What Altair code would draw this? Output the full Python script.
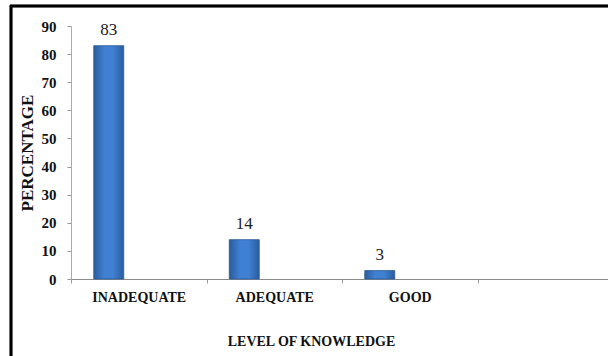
import altair as alt
import pandas as pd

categories = ["INADEQUATE", "ADEQUATE", "GOOD"]
values = [83, 14, 3]
extra_category = [" "]
y_ticks = [0, 10, 20, 30, 40, 50, 60, 70, 80, 90]

df = pd.DataFrame({"level": categories, "pct": values})

FONT = "Liberation Serif, Times New Roman, serif"
W, H = 537, 253

xscale = alt.Scale(domain=categories + extra_category, range=[0, 542],
                   paddingInner=0, paddingOuter=0)
yscale = alt.Scale(domain=[0, 90], nice=False)

grad = alt.Gradient(
    gradient="linear", x1=0, y1=0, x2=1, y2=0,
    stops=[
        alt.GradientStop(offset=0, color="#2A5C9C"),
        alt.GradientStop(offset=0.35, color="#3F80D2"),
        alt.GradientStop(offset=0.65, color="#3F80D2"),
        alt.GradientStop(offset=1, color="#2A5C9C"),
    ],
)

bars = alt.Chart(df).mark_bar(
    size=30, xOffset=-30, color=grad, stroke="#2B5A94", strokeWidth=0.8
).encode(
    x=alt.X("level:N", scale=xscale, sort=None,
            axis=alt.Axis(
                title="LEVEL OF KNOWLEDGE", titleFont=FONT, titleFontSize=14,
                titleFontWeight="bold", titleColor="#111",
                titleX=240, titleY=66, titleBaseline="alphabetic",
                labelFont=FONT, labelFontSize=14, labelFontWeight="bold",
                labelColor="#111", labelAngle=0, labelPadding=7,
                labelOverlap=False,
                tickBand="extent", tickSize=4, tickColor="#999",
                domainColor="#8a8a8a", domainWidth=1.2, grid=False)),
    y=alt.Y("pct:Q", scale=yscale,
            axis=alt.Axis(
                title="PERCENTAGE", titleFont=FONT, titleFontSize=17,
                titleFontWeight="bold", titleColor="#111",
                titleX=-35, titleY=H / 2,
                values=y_ticks, tickCount=10, labelOverlap=False,
                labelFont=FONT, labelFontSize=15,
                labelFontWeight="bold", labelColor="#111", labelPadding=11,
                tickSize=4, tickColor="#999", domainColor="#aaa", grid=False)),
)

labels = alt.Chart(df).mark_text(
    xOffset=-30, dy=-11, baseline="alphabetic", font=FONT, fontSize=17,
    color="#222"
).encode(
    x=alt.X("level:N", scale=xscale, sort=None),
    y=alt.Y("pct:Q", scale=yscale),
    text=alt.Text("pct:Q"),
)

border_top = alt.Chart(df).mark_rule(color="black", strokeWidth=2.5).encode(
    x=alt.value(-61), x2=alt.value(W + 10), y=alt.value(-20)
)
border_left = alt.Chart(df).mark_rule(color="black", strokeWidth=2.5).encode(
    x=alt.value(-60), y=alt.value(-21), y2=alt.value(340)
)

chart = alt.layer(bars, labels, border_top, border_left).properties(
    width=W, height=H,
    autosize=alt.AutoSizeParams(type="none"),
    padding={"left": 71, "top": 26, "right": 0, "bottom": 77},
    background="white",
).configure_view(stroke=None)

chart.save("out.html", embed_options={"renderer": "svg", "actions": False})
